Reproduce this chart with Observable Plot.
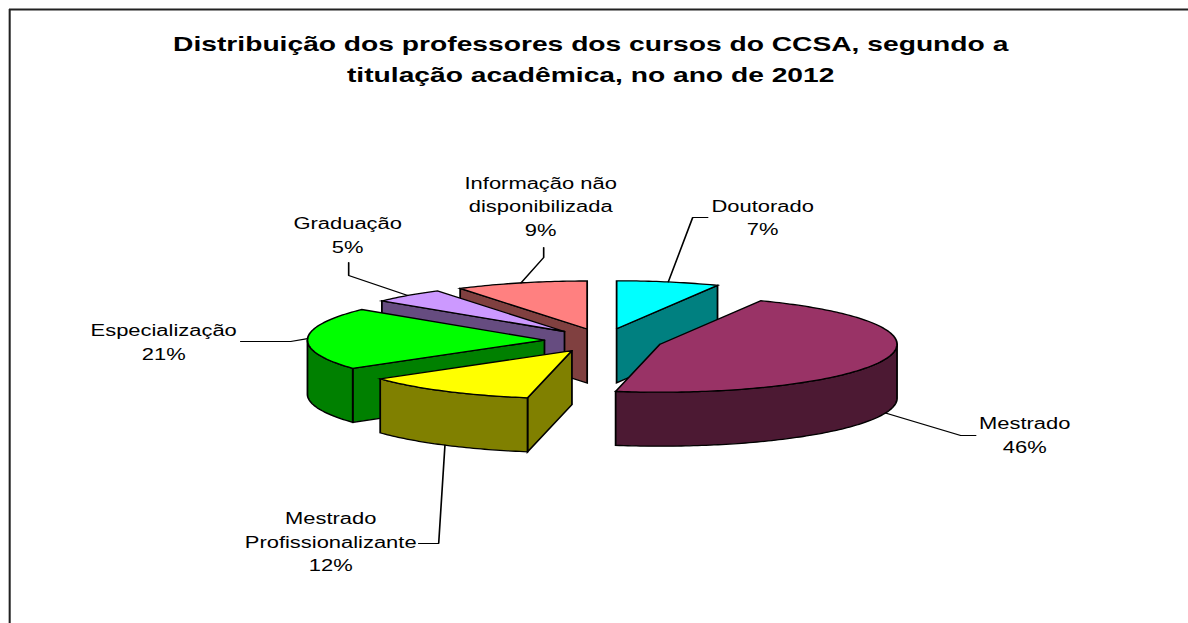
<!DOCTYPE html>
<html><head><meta charset="utf-8">
<script src="https://cdn.jsdelivr.net/npm/d3@7"></script>
<script src="https://cdn.jsdelivr.net/npm/@observablehq/plot@0.6"></script>
<style>body{margin:0;background:#fff;} #chart svg{display:block}</style>
</head><body><div id="chart"></div>
<script>
// ---- data ----
const categories = ["Doutorado", "Mestrado", "Mestrado\nProfissionalizante", "Especialização", "Graduação", "Informação não\ndisponibilizada"];
const values = [7, 46, 12, 21, 5, 9];
const topColors = ["#00FFFF", "#993366", "#FFFF00", "#00FF00", "#CC99FF", "#FF8080"];
const sideColors = ["#008080", "#4C1933", "#808000", "#008000", "#664C80", "#804040"];
const titleLines = ["Distribuição dos professores dos cursos do CCSA, segundo a", "titulação acadêmica, no ano de 2012"];

// ---- layout (reference pixel units) ----
const W = 1188, H = 623, STRETCH = 1.37;
const pie = {cx: 603, cy: 340, rx: 237, ry: 48, depth: 54, explode: 0.25};
const labelLayout = [
  {x: 762, y: [211, 234], leader: [[707, 217], [692, 217]]},
  {x: 1024, y: [428, 452], leader: [[975, 435], [960, 435]]},
  {x: 330, y: [523, 547, 570], leader: [[418, 543], [438, 543]]},
  {x: 163, y: [335, 359], leader: [[240, 341], [290, 341]]},
  {x: 347, y: [228, 252], leader: [[348, 262], [348, 275]]},
  {x: 540, y: [188, 211, 235], leader: [[543, 247], [543, 257]]}
];
const titleLayout = {x: 590, y: [50, 81]};

// ---- geometry ----
const total = d3.sum(values);
const rad = d => d * Math.PI / 180;
let acc = 0;
const slices = values.map((v, i) => {
  const a0 = acc / total * 360; acc += v; const a1 = acc / total * 360;
  const m = (a0 + a1) / 2;
  return {i, a0, a1, m,
    ox: pie.cx + pie.explode * Math.sin(rad(m)) * pie.rx,
    oy: pie.cy - pie.explode * Math.cos(rad(m)) * pie.ry};
});
const P = (s, t, dz = 0) => [s.ox + pie.rx * Math.sin(rad(t)), s.oy - pie.ry * Math.cos(rad(t)) + dz];
const arc = (s, t0, t1, dz) => {
  const n = Math.max(2, Math.ceil(Math.abs(t1 - t0)));
  return d3.range(n + 1).map(k => P(s, t0 + (t1 - t0) * k / n, dz));
};
const polys = [];
const order = slices.slice().sort((a, b) => (-Math.cos(rad(a.m))) - (-Math.cos(rad(b.m))));
order.forEach(s => {
  const c = [s.ox, s.oy], cb = [s.ox, s.oy + pie.depth];
  if (Math.sin(rad(s.a0)) < -1e-6)
    polys.push({id: s.i + "-w0", pts: [c, P(s, s.a0), P(s, s.a0, pie.depth), cb], fill: sideColors[s.i]});
  if (Math.sin(rad(s.a1)) > 1e-6)
    polys.push({id: s.i + "-w1", pts: [c, P(s, s.a1), P(s, s.a1, pie.depth), cb], fill: sideColors[s.i]});
  const f0 = Math.max(s.a0, 90), f1 = Math.min(s.a1, 270);
  if (f1 > f0)
    polys.push({id: s.i + "-out", pts: [...arc(s, f0, f1, 0), ...arc(s, f1, f0, pie.depth)], fill: sideColors[s.i]});
  polys.push({id: s.i + "-top", pts: [c, ...arc(s, s.a0, s.a1, 0)], fill: topColors[s.i]});
});
const polyRows = polys.flatMap(p => [...p.pts, p.pts[0]].map(([x, y]) => ({id: p.id, x, y, fill: p.fill})));

const leaderRows = slices.flatMap(s => {
  const front = Math.cos(rad(s.m)) < 0;
  const anchor = P(s, s.m, front ? pie.depth : 0);
  return [...labelLayout[s.i].leader, anchor].map(([x, y]) => ({id: s.i, x, y}));
});
const textRows = categories.flatMap((c, i) => {
  const lines = [...c.split("\n"), values[i] + "%"];
  return lines.map((t, k) => ({x: labelLayout[i].x, y: labelLayout[i].y[k], text: t}));
});
const titleRows = titleLines.map((t, k) => ({x: titleLayout.x, y: titleLayout.y[k], text: t}));

const plot = Plot.plot({
  width: Math.round(W / STRETCH), height: H, margin: 0,
  x: {domain: [0, W], axis: null},
  y: {domain: [0, H], range: [0, H], axis: null},
  color: {type: "identity"},
  style: {background: "#fff"},
  marks: [
    Plot.ruleX([9], {y1: 9, y2: H, stroke: "#222", strokeWidth: 1.5}),
    Plot.ruleY([9], {x1: 9, x2: W, stroke: "#222", strokeWidth: 2}),
    Plot.line(polyRows, {x: "x", y: "y", z: "id", fill: "fill", stroke: "#000", strokeWidth: 1.3, strokeLinejoin: "miter", strokeMiterlimit: 4}),
    Plot.line(leaderRows, {x: "x", y: "y", z: "id", stroke: "#000", strokeWidth: 1.2, strokeLinejoin: "miter"}),
    Plot.text(textRows, {x: "x", y: "y", text: "text", fontSize: 16, fontFamily: "Liberation Sans, Arial, sans-serif", textAnchor: "middle", lineAnchor: "bottom", fill: "#000"}),
    Plot.text(titleRows, {x: "x", y: "y", text: "text", fontSize: 20.6, fontWeight: "bold", fontFamily: "Liberation Sans, Arial, sans-serif", textAnchor: "middle", lineAnchor: "bottom", fill: "#000"})
  ]
});
plot.setAttribute("width", W);
plot.setAttribute("height", H);
plot.setAttribute("preserveAspectRatio", "none");
plot.style.maxWidth = "none";
plot.style.width = W + "px";
plot.style.height = H + "px";
document.getElementById("chart").appendChild(plot);
</script>
</body></html>
